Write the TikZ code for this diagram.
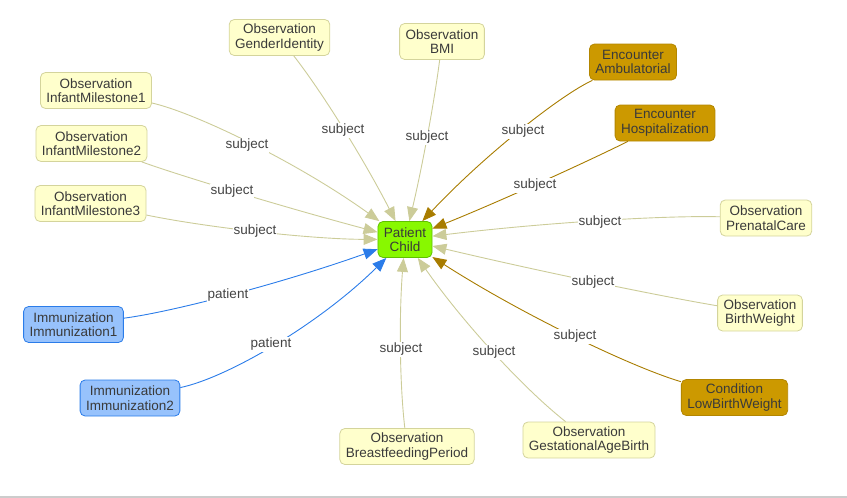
\documentclass[tikz,border=0pt]{standalone}
\usepackage{fontspec}
\setmainfont{Liberation Sans}
\usetikzlibrary{arrows.meta,calc}
\definecolor{txt}{HTML}{3A3A3A}
\definecolor{lbltxt}{HTML}{444444}
\definecolor{obsfill}{HTML}{FFFFCC}
\definecolor{obsdraw}{HTML}{D4D49C}
\definecolor{obsedgec}{HTML}{CCCC99}
\definecolor{encfill}{HTML}{CC9900}
\definecolor{encdraw}{HTML}{B38600}
\definecolor{encedgec}{HTML}{A87C00}
\definecolor{immfill}{HTML}{97C2FC}
\definecolor{immdraw}{HTML}{2B7CE9}
\definecolor{patfill}{HTML}{88F800}
\definecolor{patdraw}{HTML}{5FC000}
\definecolor{basecol}{HTML}{CCCCCC}
\begin{document}
\begin{tikzpicture}[x=1pt,y=-1pt,
  box/.style={rounded corners=5pt, align=center, font=\fontsize{13.5}{14.5}\selectfont,
    text=txt, minimum height=36pt, inner xsep=6pt, inner ysep=2pt, line width=0.8pt},
  obsbox/.style={box, fill=obsfill, draw=obsdraw},
  encbox/.style={box, fill=encfill, draw=encdraw},
  immbox/.style={box, fill=immfill, draw=immdraw},
  patbox/.style={box, fill=patfill, draw=patdraw},
  edge/.style={line width=0.9pt, -{Triangle[length=14pt,width=11pt]}},
  obsedge/.style={edge, draw=obsedgec},
  encedge/.style={edge, draw=encedgec},
  immedge/.style={edge, draw=immdraw},
  lbl/.style={fill=white, inner sep=1pt, text=lbltxt, font=\fontsize{13.5}{15}\selectfont}
]
\useasboundingbox (0,0) rectangle (847,498);
\draw[draw=basecol, line width=1.2pt] (0,497) -- (847,497);

% nodes
\node[patbox] (pat) at (405,239.5) {Patient\\Child};
\node[obsbox] (gi) at (279.5,37.5) {Observation\\GenderIdentity};
\node[obsbox] (bmi) at (442,41.5) {Observation\\BMI};
\node[encbox] (amb) at (633,62) {Encounter\\Ambulatorial};
\node[encbox] (hosp) at (665,123) {Encounter\\Hospitalization};
\node[obsbox] (im1) at (96,90.5) {Observation\\InfantMilestone1};
\node[obsbox] (im2) at (91.5,143.5) {Observation\\InfantMilestone2};
\node[obsbox] (im3) at (90.5,203.5) {Observation\\InfantMilestone3};
\node[obsbox] (pre) at (766,218) {Observation\\PrenatalCare};
\node[obsbox] (bw) at (760,313) {Observation\\BirthWeight};
\node[encbox] (lbw) at (734.5,397.5) {Condition\\LowBirthWeight};
\node[obsbox] (gab) at (589,440) {Observation\\GestationalAgeBirth};
\node[obsbox] (bfp) at (407,446.5) {Observation\\BreastfeedingPeriod};
\node[immbox] (imm1) at (73.5,324.5) {Immunization\\Immunization1};
\node[immbox] (imm2) at (130,398) {Immunization\\Immunization2};

% control points (quadratic support points)
\coordinate (q1) at (343.75,120);
\coordinate (q2) at (430.5,132);
\coordinate (q3) at (527,110);
\coordinate (q4) at (535,187.5);
\coordinate (q5) at (243.5,123.5);
\coordinate (q6) at (216,189);
\coordinate (q7) at (262.5,239);
\coordinate (q8) at (614.5,214);
\coordinate (q9) at (603.5,286.5);
\coordinate (q10) at (580.5,352);
\coordinate (q11) at (491,363);
\coordinate (q12) at (396,353.5);
\coordinate (q13) at (216.75,306.5);
\coordinate (q14) at (274.5,368);

% edges
\draw[obsedge] (gi) .. controls ($(gi.center)!0.667!(q1)$) and ($(pat.center)!0.667!(q1)$) .. (pat);
\draw[obsedge] (bmi) .. controls ($(bmi.center)!0.667!(q2)$) and ($(pat.center)!0.667!(q2)$) .. (pat);
\draw[encedge] (amb) .. controls ($(amb.center)!0.667!(q3)$) and ($(pat.center)!0.667!(q3)$) .. (pat);
\draw[encedge] (hosp) .. controls ($(hosp.center)!0.667!(q4)$) and ($(pat.center)!0.667!(q4)$) .. (pat);
\draw[obsedge] (im1) .. controls ($(im1.center)!0.667!(q5)$) and ($(pat.center)!0.667!(q5)$) .. (pat);
\draw[obsedge] (im2) .. controls ($(im2.center)!0.667!(q6)$) and ($(pat.center)!0.667!(q6)$) .. (pat);
\draw[obsedge] (im3) .. controls ($(im3.center)!0.667!(q7)$) and ($(pat.center)!0.667!(q7)$) .. (pat);
\draw[obsedge] (pre) .. controls ($(pre.center)!0.667!(q8)$) and ($(pat.center)!0.667!(q8)$) .. (pat);
\draw[obsedge] (bw) .. controls ($(bw.center)!0.667!(q9)$) and ($(pat.center)!0.667!(q9)$) .. (pat);
\draw[encedge] (lbw) .. controls ($(lbw.center)!0.667!(q10)$) and ($(pat.center)!0.667!(q10)$) .. (pat);
\draw[obsedge] (gab) .. controls ($(gab.center)!0.667!(q11)$) and ($(pat.center)!0.667!(q11)$) .. (pat);
\draw[obsedge] (bfp) .. controls ($(bfp.center)!0.667!(q12)$) and ($(pat.center)!0.667!(q12)$) .. (pat);
\draw[immedge] (imm1) .. controls ($(imm1.center)!0.667!(q13)$) and ($(pat.center)!0.667!(q13)$) .. (pat);
\draw[immedge] (imm2) .. controls ($(imm2.center)!0.667!(q14)$) and ($(pat.center)!0.667!(q14)$) .. (pat);

% labels
\node[lbl] (l1) at (343,130.5) {subject};
\node[lbl] (l2) at (427,137.5) {subject};
\node[lbl] (l3) at (523,131.5) {subject};
\node[lbl] (l4) at (535,185.5) {subject};
\node[lbl] (l5) at (247,145.5) {subject};
\node[lbl] (l6) at (232,191.5) {subject};
\node[lbl] (l7) at (255,231.5) {subject};
\node[lbl] (l8) at (600,222.5) {subject};
\node[lbl] (l9) at (593,282.5) {subject};
\node[lbl] (l10) at (575,336.5) {subject};
\node[lbl] (l11) at (494,352.5) {subject};
\node[lbl] (l12) at (401,349.5) {subject};
\node[lbl] (l13) at (228,295.5) {patient};
\node[lbl] (l14) at (271,344.5) {patient};
\end{tikzpicture}
\end{document}
